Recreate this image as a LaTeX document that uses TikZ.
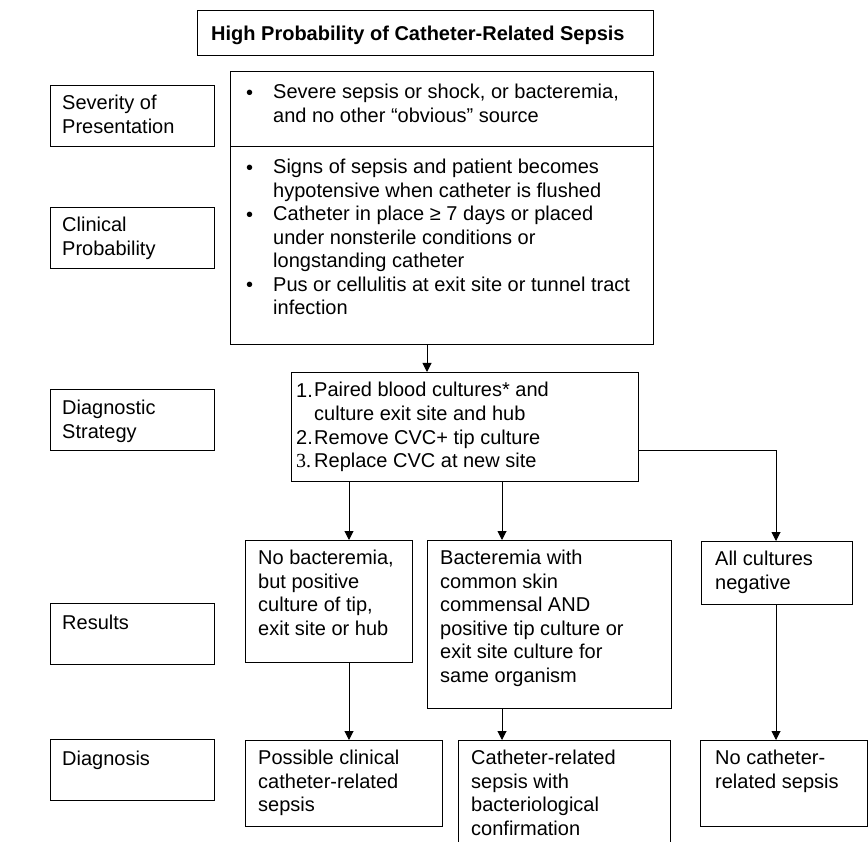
\documentclass[tikz,border=0pt]{standalone}
\usepackage{fontspec}
\setmainfont{Liberation Sans}
\newfontfamily\numserif{Liberation Serif}
\usetikzlibrary{arrows.meta,calc}
\begin{document}
\begin{tikzpicture}[x=1pt,y=-1pt,
  box/.style={draw, line width=1pt, anchor=north west, inner sep=0pt},
  txt/.style={anchor=north west, align=left, inner sep=0pt, yshift=15pt,
    font=\fontsize{20}{23.5}\selectfont, execute at begin node={\rule{0pt}{15pt}}},
  conn/.style={line width=1pt},
  arr/.style={line width=1pt, -{Triangle[length=9pt,width=9pt]}}
]
\useasboundingbox (0,0) rectangle (868,842);
\clip (0,0) rectangle (868,842);

% title
\node[box, minimum width=456, minimum height=45] (title) at (197,10) {};
\node[txt, font=\fontsize{20}{23.5}\selectfont\bfseries] (titleT) at ($(title.north west)+(14,30)$) {High Probability of Catheter-Related Sepsis};

% left labels
\node[box, minimum width=164, minimum height=61] (sevL) at (50,85) {};
\node[txt] (sevT) at ($(sevL.north west)+(12,25)$) {Severity of\\Presentation};
\node[box, minimum width=164, minimum height=61] (clinL) at (50,207) {};
\node[txt] (clinT) at ($(clinL.north west)+(12,25)$) {Clinical\\Probability};
\node[box, minimum width=164, minimum height=61] (diagL) at (50,389) {};
\node[txt] (diagT) at ($(diagL.north west)+(12,26)$) {Diagnostic\\Strategy};
\node[box, minimum width=164, minimum height=61] (resL) at (50,603) {};
\node[txt] (resT) at ($(resL.north west)+(12,26)$) {Results};
\node[box, minimum width=164, minimum height=61] (dxL) at (50,739) {};
\node[txt] (dxT) at ($(dxL.north west)+(12,26)$) {Diagnosis};

% main criteria box
\node[box, minimum width=423, minimum height=273] (main) at (230,71) {};
\coordinate (divy) at (0,147);
\draw[conn] (main.west |- divy) -- (main.east |- divy);
\node[txt] (b1) at (246,99) {•};
\node[txt] (t1) at (273,99) {Severe sepsis or shock, or bacteremia,\\and no other “obvious” source};
\node[txt] (b2) at (246,174) {•};
\node[txt] (t2) at (273,174) {Signs of sepsis and patient becomes\\hypotensive when catheter is flushed};
\node[txt] (b3) at (246,221) {•};
\node[txt] (t3) at (273,221) {Catheter in place ≥ 7 days or placed\\under nonsterile conditions or\\longstanding catheter};
\node[txt] (b4) at (246,291.5) {•};
\node[txt] (t4) at (273,291.5) {Pus or cellulitis at exit site or tunnel tract\\infection};

% diagnostic strategy box
\node[box, minimum width=347, minimum height=109] (diag) at (291,372) {};
\node[txt] (n1) at (296,397) {1.};
\node[txt] (d1) at (314,397) {Paired blood cultures* and\\culture exit site and hub};
\node[txt] (n2) at (296,444) {2.};
\node[txt] (d2) at (314,444) {Remove CVC+ tip culture};
\node[txt, font=\fontsize{20}{23.5}\numserif] (n3) at (296,467.5) {3.};
\node[txt] (d3) at (314,467.5) {Replace CVC at new site};

% results
\node[box, minimum width=167, minimum height=122] (nobact) at (245,540) {};
\node[txt] (nobactT) at ($(nobact.north west)+(13,25)$) {No bacteremia,\\but positive\\culture of tip,\\exit site or hub};
\node[box, minimum width=244, minimum height=168] (bact) at (427,540) {};
\node[txt] (bactT) at ($(bact.north west)+(13,25)$) {Bacteremia with\\common skin\\commensal AND\\positive tip culture or\\exit site culture for\\same organism};
\node[box, minimum width=151, minimum height=63] (allneg) at (701,541) {};
\node[txt] (allnegT) at ($(allneg.north west)+(14,25)$) {All cultures\\negative};

% diagnosis
\node[box, minimum width=197, minimum height=86] (possible) at (245,740) {};
\node[txt] (possibleT) at ($(possible.north west)+(13,25)$) {Possible clinical\\catheter-related\\sepsis};
\node[box, minimum width=212, minimum height=130] (cath) at (458,740) {};
\node[txt] (cathT) at ($(cath.north west)+(13,25)$) {Catheter-related\\sepsis with\\bacteriological\\confirmation};
\node[box, minimum width=167, minimum height=86] (nocath) at (700,740) {};
\node[txt] (nocathT) at ($(nocath.north west)+(15,25)$) {No catheter-\\related sepsis};

% connectors
\coordinate (xa) at (427,0);
\coordinate (xb) at (349,0);
\coordinate (xc) at (502,0);
\coordinate (xd) at (776,0);
\coordinate (hy) at (0,450);
\draw[arr] (main.south -| xa) -- (diag.north -| xa);
\draw[arr] (diag.south -| xb) -- (nobact.north -| xb);
\draw[arr] (diag.south -| xc) -- (bact.north -| xc);
\draw[arr] (diag.east |- hy) -| (allneg.north -| xd);
\draw[arr] (nobact.south -| xb) -- (possible.north -| xb);
\draw[arr] (bact.south -| xc) -- (cath.north -| xc);
\draw[arr] (allneg.south -| xd) -- (nocath.north -| xd);
\end{tikzpicture}
\end{document}
